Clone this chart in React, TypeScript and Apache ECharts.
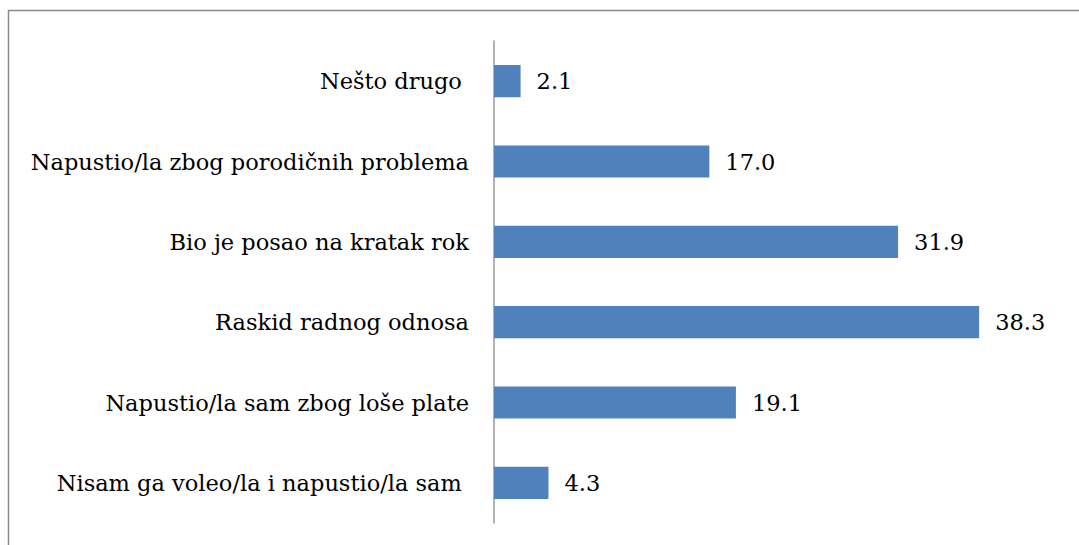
import React, { useEffect, useRef } from "react";
import * as echarts from "echarts";

const categories = [
  "Nisam ga voleo/la i napustio/la sam ",
  "Napustio/la sam zbog loše plate",
  "Raskid radnog odnosa",
  "Bio je posao na kratak rok",
  "Napustio/la zbog porodičnih problema",
  "Nešto drugo ",
];
const values = [4.3, 19.1, 38.3, 31.9, 17.0, 2.1];

const FONT = "DejaVu Serif";

export default function App() {
  const ref = useRef<HTMLDivElement>(null);
  useEffect(() => {
    if (!ref.current) return;
    const chart = echarts.init(ref.current, null, { renderer: "svg" });
    chart.setOption({
      animation: false,
      backgroundColor: "#ffffff",
      graphic: [
        {
          type: "rect",
          shape: { x: 8.5, y: 10.5, width: 1200, height: 700 },
          style: { fill: "none", stroke: "#8a8a8a", lineWidth: 1.5 },
          silent: true,
        },
      ],
      grid: { left: 494, top: 41, width: 570, height: 482, containLabel: false },
      xAxis: {
        type: "value",
        min: 0,
        max: 45,
        show: false,
      },
      yAxis: {
        type: "category",
        data: categories,
        axisLine: { show: true, lineStyle: { color: "#9a9a9a", width: 1.5 } },
        axisTick: { show: false },
        axisLabel: {
          margin: 25,
          color: "#000000",
          fontFamily: FONT,
          fontSize: 22.5,
        },
      },
      series: [
        {
          type: "bar",
          data: values,
          barCategoryGap: "60%",
          itemStyle: { color: "#4F81BD" },
          label: {
            show: true,
            position: "right",
            distance: 16,
            color: "#000000",
            fontFamily: FONT,
            fontSize: 22.5,
            formatter: (p: any) => Number(p.value).toFixed(1),
          },
        },
      ],
    });
    return () => chart.dispose();
  }, []);
  return (
    <div
      ref={ref}
      style={{ position: "fixed", left: 0, top: 0, width: 1079, height: 545 }}
    />
  );
}
